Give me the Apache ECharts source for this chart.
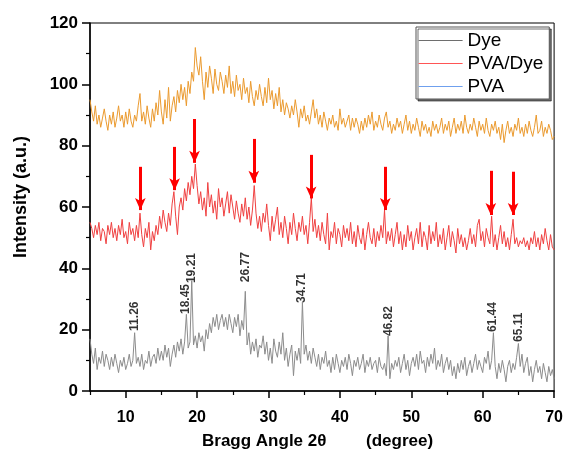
<!DOCTYPE html>
<html>
<head>
<meta charset="utf-8">
<script src="https://cdn.jsdelivr.net/npm/echarts@6/dist/echarts.min.js"></script>
<style>
html,body{margin:0;padding:0;background:#fff;}
#chart{width:566px;height:454px;}
</style>
</head>
<body>
<div id="chart"></div>
<script>
// Sampling of the diffraction angle (degrees 2θ)
const angleStart = 5, angleStep = 0.25;

// Dye (grey) intensities, one row per degree (4 samples each), from 5 to 70
const dye = [
17,12,9,14, 7,11,9,13, 8,12,10,7, 11,8,12,9, 6,10,8,11,
7,9,12,8, 10,19,9,11, 8,12,7,10, 9,13,8,11, 12,9,14,10,
13,10,15,11, 14,8,12,15, 11,16,13,17, 12,16,25,14, 16,36,15,18,
14,19,16,18, 13,20,17,22, 19,24,21,25, 20,23,25,21, 24,20,25,22,
19,24,21,25, 18,23,20,32.5, 15,19,12,16, 13,17,11,15, 14,18,12,16,
10,14,9,17, 13,11,16,12, 19,10,14,8, 12,15,5,13, 10,14,9,29,
12,15,10,13, 9,14,11,8, 12,7,11,9, 13,8,10,6, 11,7,12,9,
6,10,8,11, 7,12,9,5, 10,8,11,7, 9,12,6,10, 8,11,7,9,
10,6,11,8, 7,9,5,18, 4,9,7,10, 8,11,6,9, 12,7,10,5,
9,11,8,12, 7,13,9,10, 6,11,8,12, 9,14,7,10, 8,12,6,9,
11,7,10,5, 8,4,9,6, 10,7,11,5, 8,10,6,9, 12,7,10,8,
6,11,9,13, 7,10,19,8, 4,9,6,10, 7,3,8,10, 6,9,7,11,
15.5,8,12,6, 9,11,5,8, 3,7,10,6, 8,4,9,6, 3,8,5,7,
4
];

// PVA/Dye (red) intensities
const pvaDye = [
55,53,50,54, 51,55,49,53, 52,48,54,51, 55,50,53,49, 54,51,56,50,
52,48,55,51, 53,49,54,50, 58,51,47,53, 50,55,46,52, 49,54,51,57,
53,59,55,52, 58,54,61,65, 57,51,60,63, 59,66,62,68, 64,70,66,74,
67,61,65,59, 63,57,68,60, 64,58,62,56, 66,60,63,57, 61,65,58,64,
60,56,62,58, 55,61,57,63, 56,60,54,59, 67,58,53,57, 52,58,55,61,
54,49,57,52, 56,60,51,55, 50,57,53,48, 55,51,58,53, 49,55,52,57,
51,54,48,55, 63,52,56,50, 54,49,55,51, 48,58,46,52, 50,55,48,53,
51,47,54,50, 53,49,55,48, 52,47,54,50, 48,53,46,51, 55,50,48,53,
47,52,49,54, 50,59,48,52, 49,53,47,51, 55,48,52,46, 51,47,54,49,
52,46,50,53, 48,55,47,52, 50,46,54,48, 52,49,55,47, 51,48,53,46,
50,54,47,52, 49,45,53,48, 51,47,50,46, 49,53,48,51, 47,54,56,49,
52,47,53,50, 48,57,47,51, 46,50,54,48, 52,47,50,46, 51,56,48,50,
47,49,48,50, 47,49,46,50, 48,52,47,50, 46,51,48,53, 49,46,51,47,
46
];

// PVA (orange) intensities
const pva = [
95,91,88,93, 87,90,86,89, 92,88,85,90, 87,91,86,89, 93,88,90,86,
91,87,92,88, 86,90,88,93, 97,88,91,87, 93,89,86,92, 88,94,90,98,
91,87,95,89, 99,88,93,96, 91,98,94,100, 95,99,93,101, 97,104,101,112,
106,103,109,101, 95,104,99,106, 102,97,105,100, 98,104,101,97, 103,99,106,97,
101,96,103,98, 100,95,102,97, 99,94,101,96, 93,98,95,100, 96,93,99,94,
102,95,98,92, 97,93,99,91, 95,90,94,92, 89,93,90,95, 91,86,92,89,
93,88,90,87, 91,95,89,92, 87,90,86,91, 88,85,89,87, 90,86,88,85,
92,87,89,86, 88,90,85,89, 86,89,87,84, 88,85,89,86, 90,87,91,85,
88,86,90,87, 85,89,91,86, 88,84,87,85, 89,86,88,84, 87,90,85,88,
84,87,85,89, 86,83,88,85, 87,84,86,83, 88,85,87,84, 86,89,84,87,
85,88,83,86, 89,84,87,85, 88,84,90,86, 84,87,85,89, 86,83,88,85,
87,84,89,85, 83,87,85,88, 84,86,82,87, 81,85,88,84, 86,83,87,85,
89,84,86,83, 87,84,88,85, 83,86,90,84, 85,88,83,86, 84,87,85,82,
83
];

const seriesNames = ['Dye', 'PVA/Dye', 'PVA'];

// Labelled Dye peaks
const peakAngles = [11.26, 18.45, 19.21, 26.77, 34.71, 46.82, 61.44, 65.11];
const peakLabels = ['11.26', '18.45', '19.21', '26.77', '34.71', '46.82', '61.44', '65.11'];
const peakLabelY = [19.6, 25.1, 35.2, 35.5, 28.7, 17.9, 19.2, 16];

// Red arrows over the PVA/Dye curve
const arrowAngles = [12.05, 16.85, 19.64, 27.94, 35.97, 46.36, 61.14, 64.26];
const arrowTop = [73.1, 79.6, 88.7, 82.2, 77, 73.1, 71.8, 71.5];
const arrowTip = [59, 65.5, 74.4, 67.9, 62.8, 59, 57.4, 57.4];

// Axis ticks
const xMajorTicks = [10, 20, 30, 40, 50, 60, 70];
const xMinorTicks = [5, 15, 25, 35, 45, 55, 65];

const toPairs = arr => arr.map((v, i) => [angleStart + i * angleStep, v]);

const FONT = "'Liberation Sans', Arial, sans-serif";
const chart = echarts.init(document.getElementById('chart'), null, {renderer: 'canvas'});

const legendLine = c => ({itemStyle: {opacity: 0}, lineStyle: {color: c, width: 1.2}});

const option = {
  animation: false,
  backgroundColor: '#fff',
  grid: {left: 90, right: 11, top: 23, bottom: 63, show: true, borderColor: '#000', borderWidth: 1},
  xAxis: [{
    type: 'value', min: 5, max: 70, interval: 5,
    axisLine: {show: true, onZero: false, lineStyle: {color: '#000', width: 1.5}},
    axisTick: {show: true, customValues: xMajorTicks, length: 7, lineStyle: {color: '#000', width: 1.5}},
    axisLabel: {customValues: xMajorTicks, margin: 19, color: '#000', fontFamily: FONT, fontWeight: 'bold', fontSize: 16},
    splitLine: {show: false}
  }, {
    type: 'value', min: 5, max: 70, interval: 5, position: 'bottom',
    axisLine: {show: false},
    axisTick: {show: true, customValues: xMinorTicks, length: 4, lineStyle: {color: '#000', width: 1.2}},
    axisLabel: {show: false},
    splitLine: {show: false}
  }],
  yAxis: {
    type: 'value', min: 0, max: 120, interval: 20,
    axisLine: {show: true, onZero: false, lineStyle: {color: '#000', width: 1.5}},
    axisTick: {show: true, length: 8, lineStyle: {color: '#000', width: 1.5}},
    minorTick: {show: true, splitNumber: 2, length: 4, lineStyle: {color: '#000', width: 1.2}},
    axisLabel: {margin: 12, color: '#000', fontFamily: FONT, fontWeight: 'bold', fontSize: 17},
    splitLine: {show: false}
  },
  legend: {
    orient: 'vertical', left: 416, top: 27,
    itemWidth: 44, itemHeight: 14, itemGap: 4,
    padding: [4, 6, 3, 2],
    backgroundColor: '#fff', borderColor: '#555', borderWidth: 1,
    shadowColor: 'rgba(0,0,0,0.55)', shadowBlur: 0, shadowOffsetX: 2, shadowOffsetY: 2,
    textStyle: {fontFamily: FONT, fontSize: 19, color: '#000'},
    data: [
      Object.assign({name: 'Dye'}, legendLine('#6e6e6e')),
      Object.assign({name: 'PVA/Dye'}, legendLine('#ff5555')),
      Object.assign({name: 'PVA'}, legendLine('#6fa0ee'))
    ]
  },
  series: [
    {
      name: seriesNames[0], type: 'line', data: toPairs(dye), symbol: 'none',
      lineStyle: {color: '#8c8c8c', width: 1}, itemStyle: {color: '#8c8c8c'}
    },
    {
      name: seriesNames[1], type: 'line', data: toPairs(pvaDye), symbol: 'none',
      lineStyle: {color: '#f04040', width: 1}, itemStyle: {color: '#f04040'},
      markLine: {
        silent: true, animation: false,
        symbol: ['none', 'arrow'], symbolSize: [8, 12],
        label: {show: false},
        lineStyle: {color: '#ff0000', width: 3, type: 'solid'},
        emphasis: {disabled: true},
        data: arrowAngles.map((a, i) => [{coord: [a, arrowTop[i]]}, {coord: [a, arrowTip[i]]}])
      }
    },
    {
      name: seriesNames[2], type: 'line', data: toPairs(pva), symbol: 'none',
      lineStyle: {color: '#eb9a2e', width: 1}, itemStyle: {color: '#eb9a2e'}
    },
    {
      name: 'peaks', type: 'scatter', symbolSize: 0, silent: true,
      data: peakAngles.map((a, i) => [a, peakLabelY[i]]),
      label: {
        show: true, position: 'inside', rotate: 90, align: 'left', verticalAlign: 'middle',
        color: '#000', fontFamily: FONT, fontWeight: 'bold', fontSize: 12,
        formatter: p => peakLabels[p.dataIndex]
      }
    }
  ],
  graphic: [
    {type: 'text', x: 21, y: 197, rotation: Math.PI / 2,
      style: {text: 'Intensity (a.u.)', font: "bold 18px " + FONT, fill: '#000', textAlign: 'center', textVerticalAlign: 'middle'}},
    {type: 'text', x: 202, y: 441,
      style: {text: 'Bragg Angle 2\u03b8', font: "bold 17px " + FONT, fill: '#000', textAlign: 'left', textVerticalAlign: 'middle'}},
    {type: 'text', x: 366, y: 441,
      style: {text: '(degree)', font: "bold 17px " + FONT, fill: '#000', textAlign: 'left', textVerticalAlign: 'middle'}}
  ]
};
chart.setOption(option);
</script>
</body>
</html>
